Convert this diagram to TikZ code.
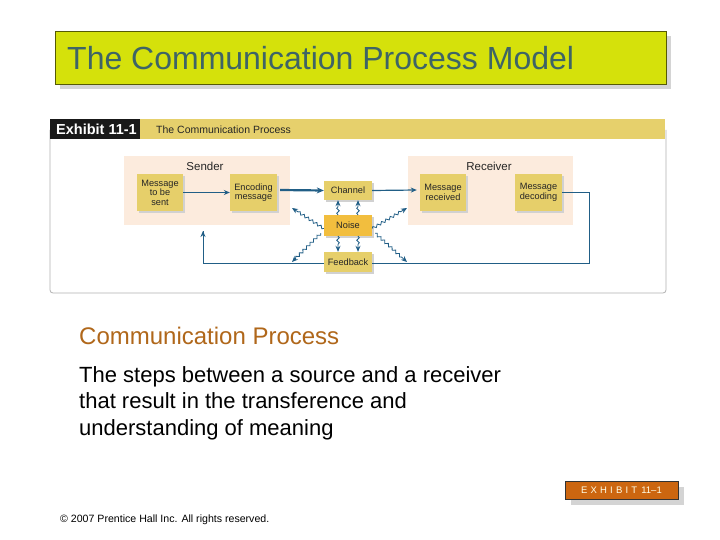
\documentclass[tikz,border=0pt]{standalone}
\usepackage{fontspec}
\setmainfont{Liberation Sans}
\usetikzlibrary{arrows.meta,decorations.pathmorphing,positioning}
\definecolor{titlebg}{HTML}{D5E10B}
\definecolor{titlefg}{HTML}{3E6466}
\definecolor{hdrbar}{HTML}{E6D06C}
\definecolor{peach}{HTML}{FCEBDD}
\definecolor{boxfill}{HTML}{E6CF6A}
\definecolor{noisefill}{HTML}{F2BE3E}
\definecolor{arrowblue}{HTML}{215E86}
\definecolor{subhead}{HTML}{B0671A}
\definecolor{exhorange}{HTML}{CC6610}
\definecolor{shadowgray}{HTML}{D4D4D4}
\tikzset{
  x=1pt,y=-1pt,
  stepbox/.style={draw=none,fill=boxfill,minimum width=46pt,minimum height=37pt,inner sep=1pt,align=center,font=\fontsize{9.2}{9.6}\selectfont,text=black!85},
  smallbox/.style={stepbox,minimum height=19pt},
  flow/.style={draw=arrowblue,line width=1.2pt,-{Stealth[length=6pt,width=5pt]}},
  thickflow/.style={draw=arrowblue,line width=2.2pt,-{Stealth[length=7pt,width=6pt]}},
  wavy/.style={draw=arrowblue,line width=0.8pt,-{Stealth[length=6pt,width=5pt]},decorate,decoration={snake,amplitude=1.3pt,segment length=5pt,post length=5pt}},
  fbline/.style={draw=arrowblue,line width=1pt},
}
\begin{document}
\begin{tikzpicture}
\useasboundingbox (0,0) rectangle (720,540);
\fill[white] (0,0) rectangle (720,540);
% title
\fill[shadowgray] (60,36) rectangle (671,89);
\draw[fill=titlebg,draw=black!60!titlebg] (55,31) rectangle (666,84);
\node[anchor=west,text=titlefg,font=\fontsize{32}{36}\selectfont,inner sep=0] (title) at (67,58) {The Communication Process Model};
% exhibit panel
\draw[black!30,line width=0.8pt,rounded corners=3pt] (50,130) -- (50,293) -- (666,293) -- (666,130);
\fill[black!90] (50,119) rectangle (140,139);
\fill[hdrbar] (140,119) rectangle (665,139);
\node[anchor=west,text=white,font=\bfseries\fontsize{14.5}{16}\selectfont,inner sep=0] (exh) at (56,129.5) {Exhibit 11-1};
\node[anchor=west,text=black!85,font=\fontsize{10.5}{12}\selectfont,inner sep=0] (exhtitle) at (156,129.5) {The Communication Process};
% backgrounds
\fill[peach] (124,156) rectangle (290,225);
\fill[peach] (408,156) rectangle (573,225);
\node[font=\fontsize{11.5}{13}\selectfont,text=black!85] (sender) at (205,166) {Sender};
\node[font=\fontsize{11.5}{13}\selectfont,text=black!85] (receiver) at (489,166) {Receiver};
% shadows
\foreach \x/\y/\w/\h in {137/174/46/37,230/174/47/37,324/181/48/19,324/215/48/21,324/252/48/20,420/174/46/37,515/174/47/37}
  \fill[black!18] (\x+2,\y+2) rectangle (\x+\w+2,\y+\h+2);
% feedback loop coordinates
\coordinate (fbR) at (589,193);
\coordinate (fbRb) at (589,263);
\coordinate (fbLb) at (203,263);
\coordinate (fbL) at (203,231);
% nodes
\node[stepbox] (m1) at (160,192.5) {Message\\to be\\sent};
\node[stepbox,minimum width=47pt] (enc) at (253.5,192.5) {Encoding\\message};
\node[smallbox,minimum width=48pt] (chan) at (348,190.5) {Channel};
\node[smallbox,minimum width=48pt,minimum height=21pt,fill=noisefill] (noise) at (348,225.5) {Noise};
\node[smallbox,minimum width=48pt,minimum height=20pt] (fb) at (348,262) {Feedback};
\node[stepbox] (rec) at (443,192.5) {Message\\received};
\node[stepbox,minimum width=47pt] (dec) at (538.5,192.5) {Message\\decoding};
% feedback line
\draw[fbline] (dec.east |- 0,193) -- (fbR) -- (fbRb) -- (fb.east |- fbRb);
\draw[fbline] (fb.west |- fbLb) -- (fbLb) -- (fbL);
\draw[draw=arrowblue,line width=1pt,-{Stealth[length=6pt,width=5pt]}] (fbLb) ++(0,-5) -- (fbL);
% main flow
\draw[flow] (m1.east) -- (enc.west);
\draw[thickflow] ([xshift=3pt]enc.east |- 0,190) -- (chan.west);
\draw[flow] (chan.east) -- ([xshift=-3pt]rec.west |- 0,190);
% noise wavy arrows
\draw[wavy] ([xshift=-10pt]noise.north) -- ([xshift=-10pt]chan.south);
\draw[wavy] ([xshift=10pt]noise.north) -- ([xshift=10pt]chan.south);
\draw[wavy] ([xshift=-10pt]noise.south) -- ([xshift=-10pt]fb.north);
\draw[wavy] ([xshift=10pt]noise.south) -- ([xshift=10pt]fb.north);
\coordinate (nUL) at (292,208);
\coordinate (nLL) at (292,262);
\coordinate (nUR) at (407,208);
\coordinate (nLR) at (407,262);
\draw[wavy] ([yshift=-3pt]noise.west) -- (nUL);
\draw[wavy] ([xshift=-3pt,yshift=3pt]noise.south west) -- (nLL);
\draw[wavy] ([yshift=-3pt]noise.east) -- (nUR);
\draw[wavy] ([xshift=3pt,yshift=3pt]noise.south east) -- (nLR);
% text
\node[anchor=base west,text=subhead,font=\fontsize{24}{28}\selectfont,inner sep=0] (sub) at (79,344) {Communication Process};
\node[anchor=north west,text=black,font=\fontsize{22}{26.5}\selectfont,align=left,inner sep=0] (body) at (79,366) {The steps between a source and a receiver\\that result in the transference and\\understanding of meaning};
% exhibit tag
\fill[shadowgray] (571,487) rectangle (684,505);
\draw[fill=exhorange,draw=black!80] (565,481) rectangle (678,499);
\node[text=white!90!yellow,font=\fontsize{9.5}{10}\selectfont,inner sep=0] (tag) at (621.5,490) {E\,\,X\,\,H\,\,I\,\,B\,\,I\,\,T\, 11–1};
\node[anchor=base west,font=\fontsize{10.6}{12}\selectfont,inner sep=0] (copy) at (60,522) {© 2007 Prentice Hall Inc. All rights reserved.};
\end{tikzpicture}
\end{document}
